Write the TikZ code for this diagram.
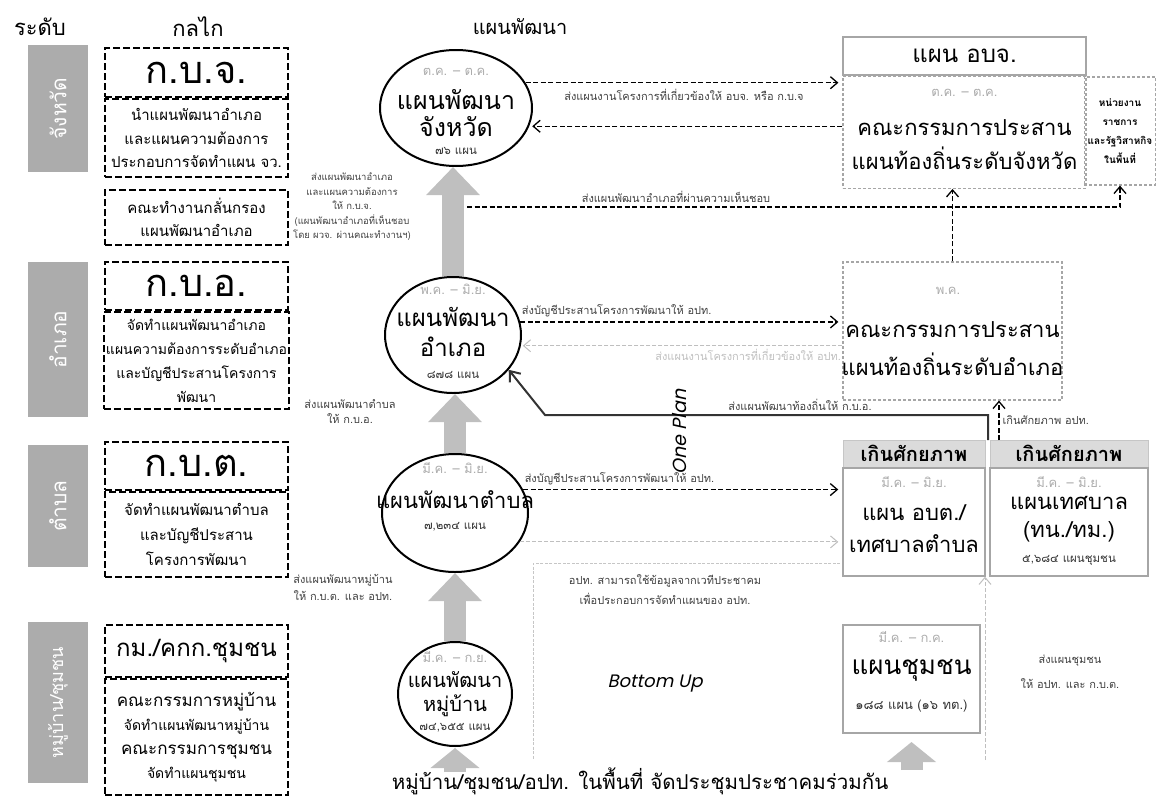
\documentclass[tikz,border=0pt]{standalone}
\usepackage{fontspec}
\setmainfont{Loma}[Script=Thai]
\newfontfamily\geofont{Poppins}[FakeSlant=0.22]
\usetikzlibrary{arrows.meta,positioning,shapes.geometric}
\newcommand{\tsz}[2]{\fontsize{#1pt}{#2pt}\selectfont}

\begin{document}
\begin{tikzpicture}[x=1pt,y=-1pt] % one unit = one pixel of the scan
\tikzstyle{lvlbar} = [rectangle, fill=gray!65, text=white, minimum height=60pt, rotate=90, font=\tsz{21}{24}] % grey level strip
\tikzstyle{mech} = [rectangle, draw, line width=2.2pt, dash pattern=on 7pt off 3pt, minimum width=183pt, align=center, inner sep=2pt] % mechanism box
\tikzstyle{plan} = [ellipse, draw, line width=2pt, inner sep=0pt] % plan circle
\tikzstyle{plantxt} = [align=center, font=\tsz{25}{28}, inner sep=0pt]
\tikzstyle{month} = [text=gray!65, font=\tsz{13}{15}, inner sep=1pt]
\tikzstyle{count} = [font=\tsz{11.5}{14}, text=black!80, inner sep=1pt]
\tikzstyle{note} = [font=\tsz{11}{14.5}, align=center, text=black!75, inner sep=1pt]
\tikzstyle{cmte} = [rectangle, draw=gray!70, line width=1.2pt, dash pattern=on 3pt off 2pt]
\tikzstyle{solidbox} = [rectangle, draw=gray!70, line width=1.5pt]
\tikzstyle{overcap} = [rectangle, fill=gray!28, draw=gray!45, font=\bfseries\tsz{20}{22}]
\tikzstyle{bigtxt} = [align=center, font=\tsz{22}{34}, inner sep=0pt]
\tikzstyle{dasharr} = [line width=1.3pt, dash pattern=on 5pt off 2.5pt, -{Straight Barb[length=7pt,width=12pt]}]
\tikzstyle{fadearr} = [gray!50, line width=1pt, dash pattern=on 4pt off 2pt, -{Straight Barb[length=7pt,width=12pt]}]
\tikzstyle{blockarr} = [gray!50, line width=22pt, -{Triangle[length=28pt,width=52pt]}] % thick up arrow
\tikzstyle{stubarr} = [gray!50, line width=22pt, -{Triangle[length=20pt,width=48pt]}]
\useasboundingbox (0,0) rectangle (1159,806);

% headings
\node[font=\tsz{22}{24}] (hdLevel) at (40,27) {ระดับ};
\node[font=\tsz{22}{24}] (hdMech) at (198,27) {กลไก};
\node[font=\tsz{20}{22}] (hdPlan) at (520,27) {แผนพัฒนา};

% levels
\node[lvlbar, minimum width=127pt] (lvProv) at (58,108.5) {จังหวัด};
\node[lvlbar, minimum width=155pt] (lvDist) at (58,339.5) {อำเภอ};
\node[lvlbar, minimum width=122pt] (lvSub) at (58,506) {ตำบล};
\node[lvlbar, minimum width=161pt, font=\tsz{18}{22}] (lvVil) at (58,702.5) {หมู่บ้าน/ชุมชน};

% mechanisms
\node[mech, minimum height=49pt, font=\tsz{38}{40}] (kbjT) at (196.5,72.5) {ก.บ.จ.};
\node[mech, minimum height=78pt, below=0pt of kbjT, font=\tsz{15}{23.5}] (kbjB) {นำแผนพัฒนาอำเภอ\\และแผนความต้องการ\\ประกอบการจัดทำแผน จว.};
\node[mech, minimum height=55pt, font=\tsz{15}{23}] (scrB) at (196.5,217.5) {คณะทำงานกลั่นกรอง\\แผนพัฒนาอำเภอ};
\node[mech, minimum height=48pt, font=\tsz{38}{40}] (kboT) at (196.5,286) {ก.บ.อ.};
\node[mech, minimum height=97pt, below=0pt of kboT, font=\tsz{14}{24}] (kboB) {จัดทำแผนพัฒนาอำเภอ\\แผนความต้องการระดับอำเภอ\\และบัญชีประสานโครงการ\\พัฒนา};
\node[mech, minimum height=48pt, font=\tsz{38}{40}] (kbtT) at (196.5,466) {ก.บ.ต.};
\node[mech, minimum height=85pt, below=0pt of kbtT, font=\tsz{15}{25}] (kbtB) {จัดทำแผนพัฒนาตำบล\\และบัญชีประสาน\\โครงการพัฒนา};
\node[mech, minimum height=52pt, font=\tsz{24}{26}] (kmT) at (196.5,651) {กม./คกก.ชุมชน};
\node[mech, minimum height=116pt, below=0pt of kmT, font=\tsz{14}{24}] (kmB) {{\tsz{17}{24}คณะกรรมการหมู่บ้าน}\\จัดทำแผนพัฒนาหมู่บ้าน\\{\tsz{17}{24}คณะกรรมการชุมชน}\\จัดทำแผนชุมชน};

% plans
\node[plan, minimum width=152pt, minimum height=116pt] (cProv) at (456,108) {};
\node[month] (mProv) at (456,72) {ต.ค. – ต.ค.};
\node[plantxt, font=\tsz{25}{27}] (tProv) at (456,113) {แผนพัฒนา\\จังหวัด};
\node[count] (nProv) at (456,151) {๗๖ แผน};
\node[plan, minimum width=136pt, minimum height=116pt] (cDist) at (453,335) {};
\node[month] (mDist) at (453,289) {พ.ค. – มิ.ย.};
\node[plantxt, font=\tsz{24}{30}] (tDist) at (453,332) {แผนพัฒนา\\อำเภอ};
\node[count] (nDist) at (453,375) {๘๗๘ แผน};
\node[plan, minimum width=146pt, minimum height=118pt] (cSub) at (455,513) {};
\node[month] (mSub) at (455,468) {มี.ค. – มิ.ย.};
\node[plantxt, font=\tsz{22}{24}] (tSub) at (455,500) {แผนพัฒนาตำบล};
\node[count] (nSub) at (455,527) {๗,๒๓๔ แผน};
\node[plan, minimum width=114pt, minimum height=104pt] (cVil) at (455,694) {};
\node[month] (mVil) at (455,657) {มี.ค. – ก.ย.};
\node[plantxt, font=\tsz{20}{24}] (tVil) at (455,694) {แผนพัฒนา\\หมู่บ้าน};
\node[count] (nVil) at (455,728) {๗๔,๖๕๕ แผน};

% grey up arrows
\draw[blockarr] (cSub.north) -- (cSub.north |- cDist.south);
\draw[blockarr] (cDist.north) -- (cDist.north |- cProv.south);
\draw[blockarr] (cVil.north) -- (cVil.north |- cSub.south);
\coordinate (vilBase) at (455,772);
\draw[stubarr] (vilBase) -- (455,748);
\node[note, font=\tsz{9.5}{14.5}] (lbProv) at (352,207) {ส่งแผนพัฒนาอำเภอ\\และแผนความต้องการ\\ให้ ก.บ.จ.\\(แผนพัฒนาอำเภอที่เห็นชอบ\\โดย ผวจ. ผ่านคณะทำงานฯ)};
\node[note, font=\tsz{11}{15}] (lbDist) at (350,412) {ส่งแผนพัฒนาตำบล\\ให้ ก.บ.อ.};
\node[note, font=\tsz{11}{17}] (lbSub) at (343,587) {ส่งแผนพัฒนาหมู่บ้าน\\ให้ ก.บ.ต. และ อปท.};

% local plans
\node[solidbox, minimum width=243pt, minimum height=38pt, font=\tsz{24}{26}] (pjT) at (964.5,56) {แผน อบจ.};
\node[cmte, minimum width=243pt, minimum height=112pt, below=0pt of pjT] (pjB) {};
\node[month] (mPj) at (964.5,93) {ต.ค. – ต.ค.};
\node[bigtxt] (tPj) at (964.5,145) {คณะกรรมการประสาน\\แผนท้องถิ่นระดับจังหวัด};
\node[cmte, minimum width=60pt, minimum height=108pt, align=center, font=\bfseries\tsz{10}{19}] (govB) at (1120,131) {หน่วยงาน\\ราชการ\\และรัฐวิสาหกิจ\\ในพื้นที่};
\node[cmte, minimum width=219pt, minimum height=138pt] (adB) at (952.5,331) {};
\node[month] (mAd) at (948,291) {พ.ค.};
\node[bigtxt, font=\tsz{22}{38}] (tAd) at (952.5,349) {คณะกรรมการประสาน\\แผนท้องถิ่นระดับอำเภอ};
\node[overcap, minimum width=142pt, minimum height=27pt] (tbT) at (914,453.5) {เกินศักยภาพ};
\node[solidbox, minimum width=142pt, minimum height=108pt, below=0pt of tbT] (tbB) {};
\node[month] (mTb) at (914,482) {มี.ค. – มิ.ย.};
\node[bigtxt, font=\tsz{22}{32}] (tTb) at (914,529) {แผน อบต./\\เทศบาลตำบล};
\node[overcap, minimum width=158pt, minimum height=27pt] (mnT) at (1069,453.5) {เกินศักยภาพ};
\node[solidbox, minimum width=158pt, minimum height=108pt, below=0pt of mnT] (mnB) {};
\node[month] (mMn) at (1069,482) {มี.ค. – มิ.ย.};
\node[bigtxt, font=\tsz{22}{28}] (tMn) at (1069,519) {แผนเทศบาล\\(ทน./ทม.)};
\node[count] (nMn) at (1069,560) {๕,๖๘๔ แผนชุมชน};
\node[solidbox, minimum width=137pt, minimum height=108pt] (cmB) at (911.5,679) {};
\node[month] (mCm) at (911.5,637) {มี.ค. – ก.ค.};
\node[font=\tsz{26}{28}] (tCm) at (911.5,670) {แผนชุมชน};
\node[count, font=\tsz{13}{15}] (nCm) at (911.5,706) {๑๘๘ แผน (๑๖ ทต.)};
\coordinate (cmBase) at (911.5,770);
\draw[stubarr] (cmBase) -- (911.5,742);

% dashed links
\draw[dasharr, shorten >=4pt] (cProv.20) -- (cProv.20 -| pjB.west) node[note, midway, below=5pt] {ส่งแผนงานโครงการที่เกี่ยวข้องให้ อบจ. หรือ ก.บ.จ};
\draw[dasharr, shorten >=3pt] (cProv.-14 -| pjB.west) -- (cProv.-14);
\coordinate (fwdStart) at (467,207);
\draw[dasharr] (fwdStart) -| (govB.south) node[note, pos=0.16, above=3pt] {ส่งแผนพัฒนาอำเภอที่ผ่านความเห็นชอบ};
\draw[dasharr] (adB.north) -- (adB.north |- pjB.south);
\draw[dasharr, shorten >=4pt] (cDist.11) -- (cDist.11 -| adB.west) node[note, pos=0, anchor=south west, yshift=3pt] {ส่งบัญชีประสานโครงการพัฒนาให้ อปท.};
\draw[fadearr, shorten >=2pt] (cDist.-9 -| adB.west) -- (cDist.-9) node[note, pos=0, anchor=north east, yshift=-2pt, text=gray!50] {ส่งแผนงานโครงการที่เกี่ยวข้องให้ อปท.};
\coordinate (opBase) at (988,440);
\coordinate (opBend) at (545,415);
\draw[line width=2pt, black!80, -{Straight Barb[length=9pt,width=14pt]}] (opBase) |- (opBend) -- (cDist.-32);
\node[note, anchor=south] (lbOp) at (800,412) {ส่งแผนพัฒนาท้องถิ่นให้ ก.บ.อ.};
\coordinate (opUp) at (999,440);
\draw[dasharr] (opUp) -- (opUp |- adB.south) node[note, midway, right=2pt] {เกินศักยภาพ อปท.};
\draw[dasharr, shorten >=4pt] (cSub.19) -- (cSub.19 -| tbB.west) node[note, pos=0, anchor=south west, yshift=3pt] {ส่งบัญชีประสานโครงการพัฒนาให้ อปท.};
\draw[fadearr, shorten >=4pt] (cSub.-24) -- (cSub.-24 -| tbB.west);

% bottom up area
\draw[gray!45, line width=0.8pt, dash pattern=on 3pt off 1.5pt] (840,563) -- (533,563) -- (533,760);
\node[note, font=\tsz{11}{20}] (lbBu) at (665,590) {อปท. สามารถใช้ข้อมูลจากเวทีประชาคม\\เพื่อประกอบการจัดทำแผนของ อปท.};
\coordinate (cmUp) at (985,760);
\draw[fadearr] (cmUp) -- (cmUp |- tbB.south);
\node[note, font=\tsz{11}{25}] (lbCm) at (1070,672) {ส่งแผนชุมชน\\ให้ อปท. และ ก.บ.ต.};
\node[font=\geofont\tsz{18}{20}] (buTxt) at (655,684) {Bottom Up};
\node[font=\geofont\tsz{19}{20}, rotate=90] (opTxt) at (680,432) {One Plan};
\node[font=\tsz{20.5}{24}] (baseTxt) at (640,781) {หมู่บ้าน/ชุมชน/อปท. ในพื้นที่ จัดประชุมประชาคมร่วมกัน};
\end{tikzpicture}
\end{document}
